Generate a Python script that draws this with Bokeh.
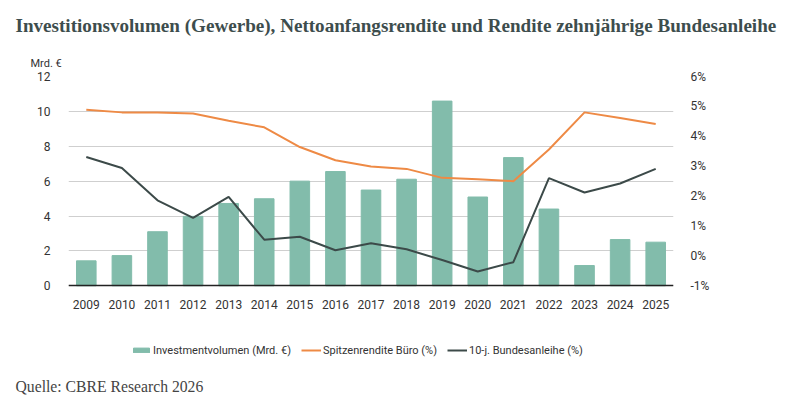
from bokeh.plotting import figure
from bokeh.models import (Range1d, LinearAxis, FactorRange, Title, Legend, LegendItem,
                          FixedTicker, CustomJSTickFormatter)
from bokeh.embed import file_html
from bokeh.resources import INLINE

years = [str(y) for y in range(2009, 2026)]
volumen = [1.43, 1.73, 3.1, 3.98, 4.72, 4.99, 6.0, 6.55, 5.49, 6.11, 10.59, 5.09, 7.35, 4.4, 1.16, 2.65, 2.5]
spitzenrendite = [4.89, 4.8, 4.8, 4.76, 4.52, 4.3, 3.64, 3.2, 2.99, 2.91, 2.61, 2.56, 2.5, 3.56, 4.8, 4.61, 4.41]
bundesanleihe = [3.31, 2.94, 1.86, 1.27, 1.97, 0.54, 0.64, 0.19, 0.42, 0.22, -0.14, -0.52, -0.21, 2.6, 2.12, 2.42, 2.91]
left_ticks = [0, 2, 4, 6, 8, 10, 12]
right_ticks = [-1, 0, 1, 2, 3, 4, 5, 6]

title_text = "Investitionsvolumen (Gewerbe), Nettoanfangsrendite und Rendite zehnjährige Bundesanleihe"
source_text = "Quelle: CBRE Research 2026"
unit_text = "Mrd. €"

BAR = "#82bcab"
ORANGE = "#ee8a45"
DARK = "#3c4a49"
FONT = "Roboto"
TXT = "#333333"

# frame: y 75..365 px (290 px); 12 units over 210 px on the left, 7 % over 210 px on the right
FRAME_TOP, FRAME_BOTTOM = 75, 365
left_px = 210 / 12
right_px = 210 / 7
frame_h = FRAME_BOTTOM - FRAME_TOP

p = figure(width=802, height=409, x_range=FactorRange(*years),
           y_range=Range1d(12 - frame_h / left_px, 12),
           output_backend="svg", toolbar_location=None,
           min_border_left=68, min_border_right=129,
           min_border_top=FRAME_TOP, min_border_bottom=409 - FRAME_BOTTOM)
p.outline_line_color = None
p.extra_y_ranges = {"pct": Range1d(6 - frame_h / right_px, 6)}

bars = p.vbar(x=years, top=volumen, width=0.55, color=BAR)
l1 = p.line(x=years, y=spitzenrendite, y_range_name="pct", color=ORANGE, line_width=2)
l2 = p.line(x=years, y=bundesanleihe, y_range_name="pct", color=DARK, line_width=2)

# left axis
ya = p.yaxis[0]
ya.ticker = FixedTicker(ticks=left_ticks)
ya.axis_line_color = None
ya.major_tick_line_color = None
ya.minor_tick_line_color = None
ya.major_label_text_font = FONT
ya.major_label_text_font_size = "12px"
ya.major_label_text_color = TXT
ya.major_label_standoff = 12

# right axis
ra = LinearAxis(y_range_name="pct", ticker=FixedTicker(ticks=right_ticks),
                formatter=CustomJSTickFormatter(code="return tick + '%';"))
ra.axis_line_color = None
ra.major_tick_line_color = None
ra.minor_tick_line_color = None
ra.major_label_text_font = FONT
ra.major_label_text_font_size = "12px"
ra.major_label_text_color = TXT
ra.major_label_standoff = 11
p.add_layout(ra, "right")

# x axis, pinned at 0 of the left scale
xa = p.xaxis[0]
xa.fixed_location = 0
xa.axis_line_color = "#222222"
xa.axis_line_width = 1.5
xa.major_tick_line_color = None
xa.minor_tick_line_color = None
xa.major_label_text_font = FONT
xa.major_label_text_font_size = "12px"
xa.major_label_text_color = TXT
xa.major_label_standoff = 8

p.xgrid.grid_line_color = None
p.ygrid.ticker = FixedTicker(ticks=left_ticks)
p.ygrid.grid_line_color = "#cfcfcf"
p.ygrid.grid_line_width = 1

# titles above: first added is closest to the frame
p.add_layout(Title(text=unit_text, align="left", offset=-38, standoff=14,
                   text_font=FONT, text_font_size="11px", text_font_style="normal",
                   text_line_height=0.8, text_color=TXT), "above")
p.add_layout(Title(text=title_text, align="left", offset=-53, standoff=24,
                   text_font="Liberation Serif", text_font_size="19.1px", text_font_style="bold",
                   text_line_height=0.8, text_color="#3d4d4d"), "above")

legend = Legend(items=[LegendItem(label="Investmentvolumen (Mrd. €)", renderers=[bars]),
                       LegendItem(label="Spitzenrendite Büro (%)", renderers=[l1]),
                       LegendItem(label="10-j. Bundesanleihe (%)", renderers=[l2])],
                orientation="horizontal", location=(63, 8))
legend.padding = 0
legend.margin = 0
legend.spacing = 10
legend.border_line_color = None
legend.background_fill_alpha = 0
legend.glyph_width = 20
legend.glyph_height = 6
legend.label_height = 14
legend.label_standoff = 2
legend.label_text_font = FONT
legend.label_text_font_size = "11px"
legend.label_text_color = TXT
p.add_layout(legend, "center")

p.add_layout(Title(text=source_text, align="left", offset=-53, standoff=21,
                   text_font="Liberation Serif", text_font_size="15.7px", text_font_style="normal",
                   text_color="#444444"), "below")

open("out.html", "w").write(file_html(p, INLINE))
